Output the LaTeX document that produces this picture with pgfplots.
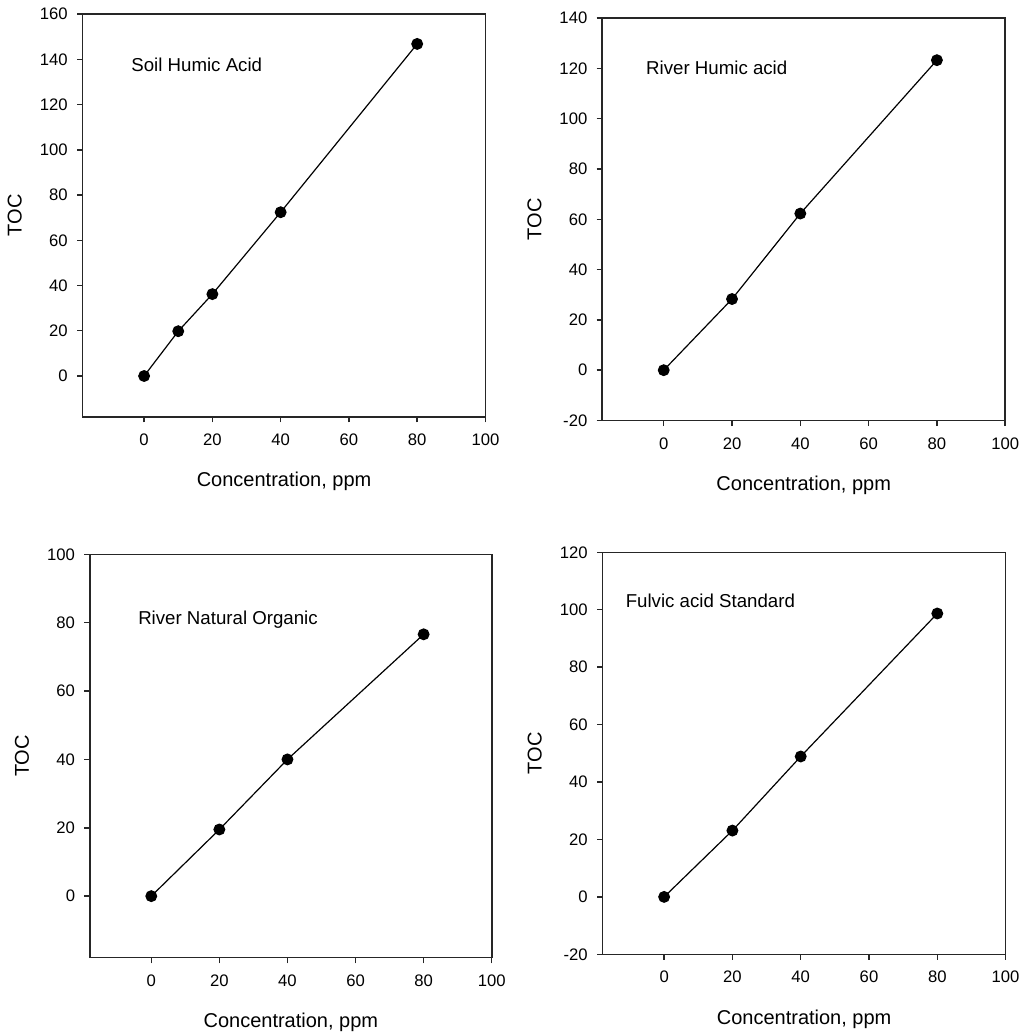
\documentclass[border=0pt]{standalone}
\usepackage{fontspec}
\setmainfont{Liberation Sans}
\usepackage{pgfplots}
\pgfplotsset{compat=1.18}

\pgfplotsset{
  tocpanel/.style={
    scale only axis,
    width=302pt, height=302pt,
    xmin=-18, xmax=100,
    xtick={0,20,...,100},
    axis line style={black!85, line width=1.2pt},
    tick style={black!85, line width=1.1pt},
    tick align=outside,
    major tick length=4.2pt,
    xtick pos=bottom, ytick pos=left,
    tick label style={font=\fontsize{12.5}{15}\selectfont},
    xticklabel style={yshift=-5pt},
    yticklabel style={xshift=-3.5pt},
    /pgf/number format/assume math mode=true,
    clip=false,
  },
  tocline/.style={black, line width=0.9pt, mark=*, mark size=4pt, mark options={fill=black, draw=black}},
}
\tikzset{panelnote/.style={anchor=base west, inner sep=0pt, font=\fontsize{14}{17}\selectfont}}

\newcommand{\panellabels}{%
  \node[anchor=base, font=\fontsize{15}{18}\selectfont]
    at ([yshift=-52.5pt]axis description cs:0.5,0) {Concentration, ppm};
  \node[anchor=base, rotate=90, font=\fontsize{15}{18}\selectfont]
    at ([xshift=-45.75pt]axis description cs:0,0.5) {TOC};
}

\begin{document}
\begin{tikzpicture}
\useasboundingbox (0,0) rectangle (768pt,774.75pt);

% Soil Humic Acid
\begin{axis}[tocpanel, at={(62pt,462.2pt)}, anchor=south west,
  width=302.1pt, height=302pt,
  ymin=-18, ymax=160, ytick={0,20,...,160}]
\addplot[tocline] coordinates {(0,0) (10,19.8) (20,36.2) (40,72.4) (80,146.8)};
\node[panelnote] at (axis cs:-3.8,134.8) {Soil Humic Acid};
\panellabels
\end{axis}

% River Humic acid
\begin{axis}[tocpanel, at={(451.7pt,459.4pt)}, anchor=south west,
  width=302.2pt, height=301.7pt,
  ymin=-20, ymax=140, ytick={-20,0,...,140}]
\addplot[tocline] coordinates {(0,0) (20,28.3) (40,62.3) (80,123.3)};
\node[panelnote] at (axis cs:-5.2,117.5) {River Humic acid};
\panellabels
\end{axis}

% River Natural Organic
\begin{axis}[tocpanel, at={(67.5pt,56.5pt)}, anchor=south west,
  width=301.3pt, height=302.5pt,
  ymin=-18, ymax=100, ytick={0,20,...,100}]
\addplot[tocline] coordinates {(0,0) (20,19.5) (40,40) (80,76.6)};
\node[panelnote] at (axis cs:-3.9,79.5) {River Natural Organic};
\panellabels
\end{axis}

% Fulvic acid Standard
\begin{axis}[tocpanel, at={(452pt,59pt)}, anchor=south west,
  width=302.2pt, height=301.5pt,
  ymin=-20, ymax=120, ytick={-20,0,...,120}]
\addplot[tocline] coordinates {(0,0) (20,23.1) (40,48.9) (80,98.7)};
\node[panelnote] at (axis cs:-11.3,100.7) {Fulvic acid Standard};
\panellabels
\end{axis}
\end{tikzpicture}
\end{document}
